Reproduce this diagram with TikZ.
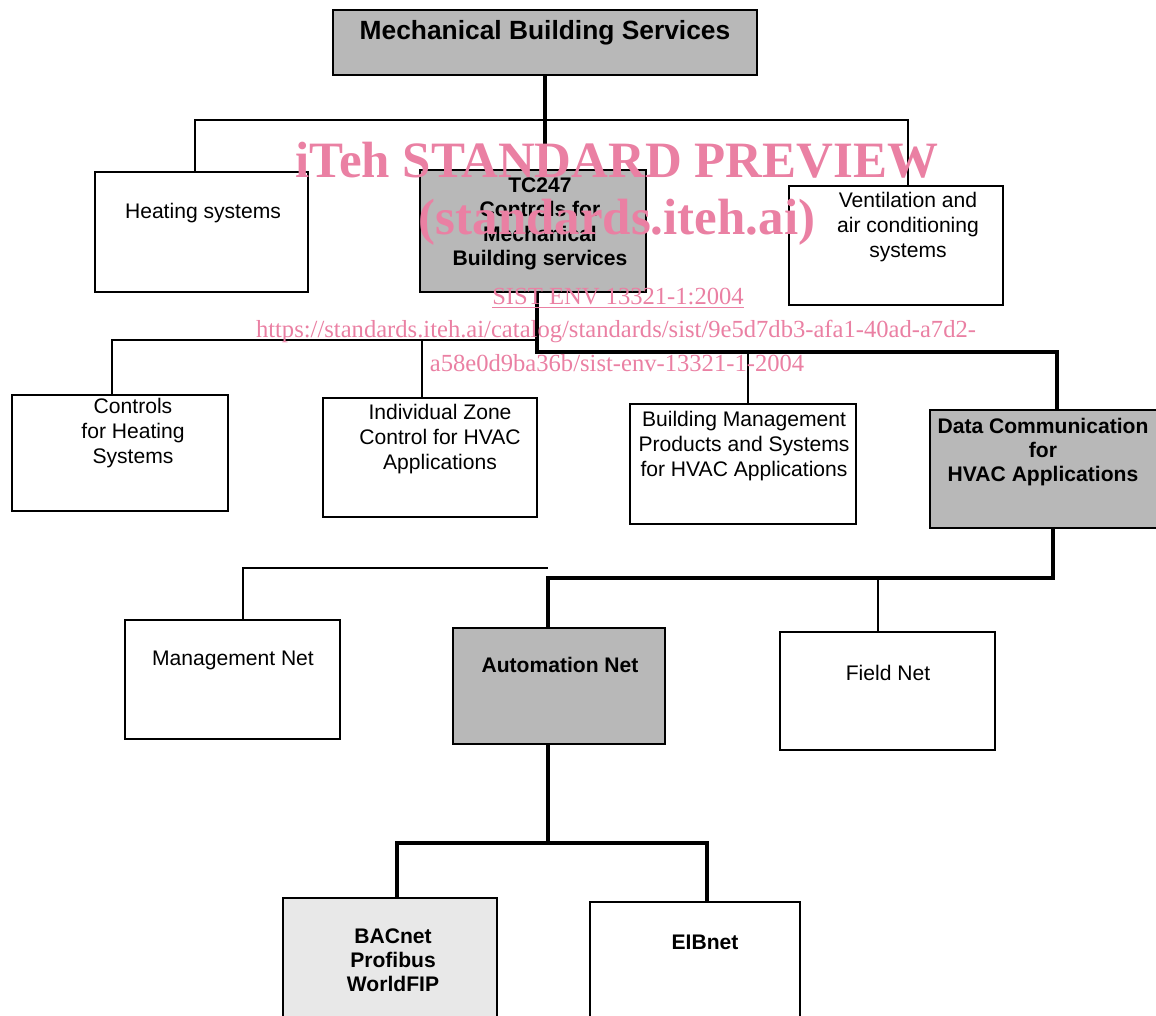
\documentclass[tikz,border=0pt]{standalone}
\usepackage{fontspec}
\setmainfont{Liberation Sans}
\newfontfamily\wmfont{Liberation Serif}
\usetikzlibrary{fit}
\definecolor{wmpink}{RGB}{234,128,163}
\tikzset{
 box/.style={draw, line width=1pt, inner sep=0pt},
 shadebox/.style={box, fill=black!28, line width=1.4pt},
 lightbox/.style={box, fill=black!9},
 link/.style={line width=0.6pt},
 trunk/.style={line width=2.3pt},
 lbl/.style={align=center, font=\fontsize{12}{14.2}\selectfont, inner sep=0pt},
 blbl/.style={lbl, font=\fontsize{12}{13.8}\selectfont\bfseries},
 wmark/.style={text=wmpink, inner sep=0pt},
}
\begin{document}
\begin{tikzpicture}[x=0.02cm, y=-0.02cm]
\useasboundingbox (0,0) rectangle (1156,1016);
% boxes
\node[shadebox, fit={(333,10) (757,75)}] (mbs) {};
\node[box, fit={(95,172) (308,292)}] (hs) {};
\node[shadebox, fit={(420,170) (646,292)}] (tc) {};
\node[box, fit={(789,186) (1003,305)}] (vac) {};
\node[box, fit={(12,395) (228,511)}] (chs) {};
\node[box, fit={(323,398) (537,517)}] (izc) {};
\node[box, fit={(630,404) (856,524)}] (bms) {};
\node[shadebox, fit={(930,410) (1184,528)}] (dc) {};
\node[box, fit={(125,620) (340,739)}] (mn) {};
\node[shadebox, fit={(453,628) (665,744)}] (an) {};
\node[box, fit={(780,632) (995,750)}] (fn) {};
\node[lightbox, fit={(283,898) (497,1030)}] (bac) {};
\node[box, fit={(590,902) (800,1030)}] (eib) {};

% bus points
\coordinate (bus1) at (545,120);
\coordinate (bus2) at (537,352);
\coordinate (bus2a) at (537,340);
\coordinate (bus3) at (548,578);
\coordinate (bus3a) at (548,568);
\coordinate (bus4) at (548,843);

% thin links
\draw[link] (hs.north -| 195,0) |- (bus1) -| (vac.north -| 908,0);
\draw[link] (chs.north -| 112,0) |- (bus2a);
\draw[link] (izc.north -| 422,0) |- (bus2a);
\draw[link] (bms.north -| 748,0) |- (bus2);
\draw[link] (mn.north -| 243,0) |- (bus3a);
\draw[link] (fn.north -| 878,0) |- (bus3);

% thick links
\draw[trunk] (mbs.south) -- (mbs.south |- tc.north);
\draw[trunk] (tc.south -| bus2) -- (bus2) -| (dc.north);
\draw[trunk] (dc.south -| 1053,0) |- (bus3) -- (bus3 |- an.north);
\draw[trunk] (an.south -| bus4) -- (bus4);
\draw[trunk] (bac.north -| 397,0) |- (bus4) -| (eib.north -| 707,0);

% texts
\node[blbl, font=\fontsize{15}{17}\selectfont\bfseries] (tmbs) at (545,33) {Mechanical Building Services};
\node[lbl] (ths) at (203,213) {Heating systems};
\node[blbl] (ttc) at (540,224) {TC247\\Controls for\\Mechanical\\Building services};
\node[lbl] (tvac) at (908,227) {Ventilation and\\air conditioning\\systems};
\node[lbl] (tchs) at (133,433) {Controls\\for Heating\\Systems};
\node[lbl] (tizc) at (440,439) {Individual Zone\\Control for HVAC\\Applications};
\node[lbl] (tbms) at (744,446) {Building Management\\Products and Systems\\for HVAC Applications};
\node[blbl] (tdc) at (1043,452) {Data Communication\\for\\HVAC Applications};
\node[lbl] (tmn) at (233,660) {Management Net};
\node[blbl] (tan) at (560,665) {Automation Net};
\node[lbl] (tfn) at (888,673) {Field Net};
\node[blbl] (tbac) at (393,960) {BACnet\\Profibus\\WorldFIP};
\node[blbl] (teib) at (705,942) {EIBnet};

% watermark
\node[wmark, font=\wmfont\fontsize{29}{31}\selectfont\bfseries] (wm1) at (617,160) {iTeh STANDARD PREVIEW};
\node[wmark, font=\wmfont\fontsize{29}{31}\selectfont\bfseries] (wm2) at (617,222) {(standards.iteh.ai)};
\node[wmark, font=\wmfont\fontsize{14}{16}\selectfont] (wm3) at (618,298) {\underline{SIST ENV 13321-1:2004}};
\node[wmark, font=\wmfont\fontsize{14}{16}\selectfont] (wm4) at (616,331) {https://standards.iteh.ai/catalog/standards/sist/9e5d7db3-afa1-40ad-a7d2-};
\node[wmark, font=\wmfont\fontsize{14}{16}\selectfont] (wm5) at (617,363) {a58e0d9ba36b/sist-env-13321-1-2004};
\end{tikzpicture}
\end{document}
